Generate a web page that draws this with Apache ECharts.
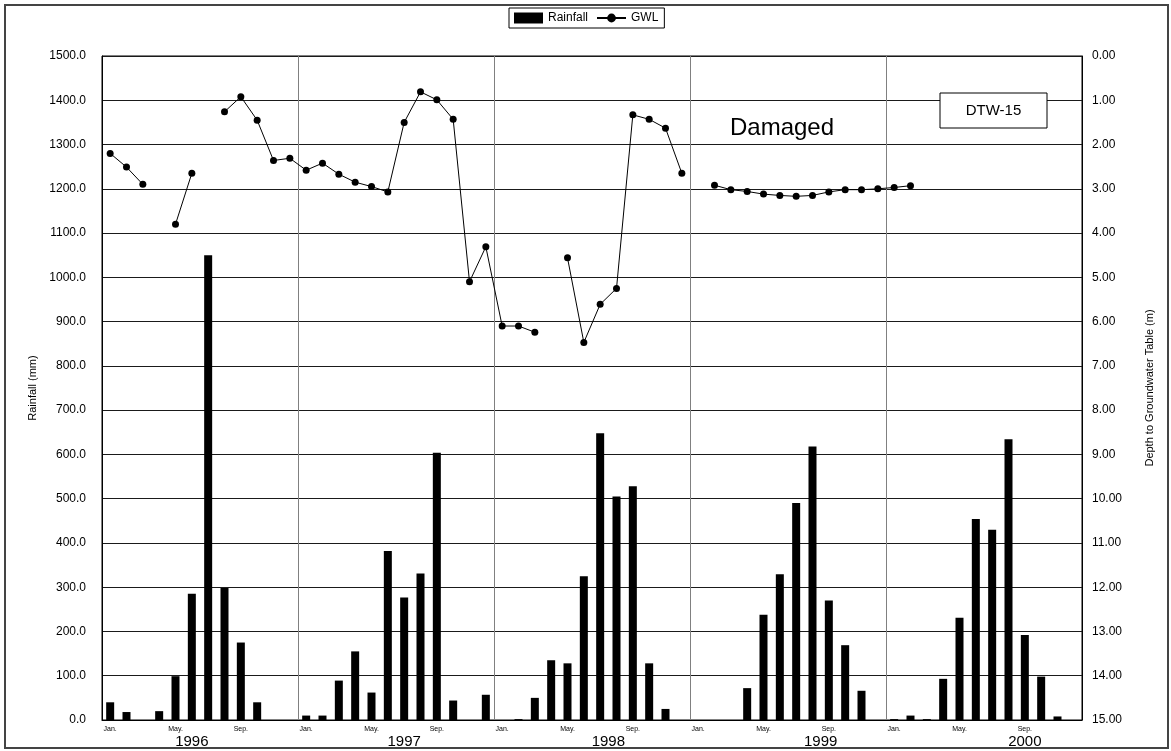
<!DOCTYPE html>
<html>
<head>
<meta charset="utf-8">
<script src="https://cdn.jsdelivr.net/npm/echarts@6/dist/echarts.min.js"></script>
<style>html,body{margin:0;padding:0;background:#fff;}#c{width:1171px;height:751px;}</style>
</head>
<body>
<div id="c"></div>
<script>
// ---- Data ----
const years = ['1996', '1997', '1998', '1999', '2000'];
const monthNames = ['Jan.', 'Feb.', 'Mar.', 'Apr.', 'May.', 'Jun.', 'Jul.', 'Aug.', 'Sep.', 'Oct.', 'Nov.', 'Dec.'];
const rain1996 = [40, 18, 0, 20, 99, 285, 1050, 298, 175, 40, 0, 0];
const rain1997 = [10, 10, 89, 155, 62, 382, 277, 331, 604, 44, 0, 57];
const rain1998 = [0, 2, 50, 135, 128, 325, 648, 505, 528, 128, 25, 0];
const rain1999 = [0, 0, 0, 72, 238, 329, 490, 618, 270, 169, 66, 0];
const rain2000 = [2, 10, 2, 93, 231, 454, 430, 634, 192, 98, 8, 0];
const gwl1996 = [2.20, 2.51, 2.90, null, 3.80, 2.65, null, 1.26, 0.92, 1.45, 2.36, 2.31];
const gwl1997 = [2.58, 2.42, 2.67, 2.85, 2.95, 3.07, 1.50, 0.81, 0.99, 1.43, 5.10, 4.31];
const gwl1998 = [6.10, 6.10, 6.24, null, 4.56, 6.47, 5.61, 5.25, 1.33, 1.43, 1.63, 2.65];
const gwl1999 = [null, 2.92, 3.02, 3.06, 3.12, 3.15, 3.17, 3.15, 3.07, 3.02, 3.02, 3.00];
const gwl2000 = [2.97, 2.93, null, null, null, null, null, null, null, null, null, null];
// year label positions (in months from Jan 1996)
const yearLabelPos = [5.5, 18.5, 31, 44, 56.5];
const leftTicks = [0, 1500, 100];
const rightTicks = [0, 15, 1];

// ---- Build ----
const categories = [];
years.forEach(y => monthNames.forEach((m, i) => categories.push(y + '-' + (i + 1))));
const rainfall = [].concat(rain1996, rain1997, rain1998, rain1999, rain2000);
const gwl = [].concat(gwl1996, gwl1997, gwl1998, gwl1999, gwl2000);

const FONT = '"Liberation Sans", Arial, sans-serif';
const chart = echarts.init(document.getElementById('c'), null, {renderer: 'canvas'});
chart.setOption({
  animation: false,
  backgroundColor: '#fff',
  textStyle: {fontFamily: FONT, color: '#000'},
  grid: {left: 102, right: 89, top: 56, bottom: 31, show: true, borderColor: '#000', borderWidth: 1, containLabel: false},
  legend: {
    top: 8, left: 509,
    data: [{name: 'Rainfall', icon: 'rect'}, {name: 'GWL'}],
    borderColor: '#000', borderWidth: 1, padding: [4, 6, 4, 5],
    itemGap: 8, itemWidth: 29, itemHeight: 11,
    textStyle: {fontSize: 12, color: '#000', fontFamily: FONT}
  },
  xAxis: [{
    type: 'category', data: categories, gridIndex: 0,
    axisLine: {show: true, lineStyle: {color: '#000', width: 1}},
    axisTick: {show: false},
    axisLabel: {
      interval: (idx) => idx % 4 === 0,
      formatter: (v) => monthNames[parseInt(v.split('-')[1], 10) - 1],
      fontSize: 7, color: '#000', margin: 6
    },
    splitLine: {show: true, interval: (idx) => idx % 12 === 0 && idx > 0, lineStyle: {color: '#808080', width: 1}}
  }, {
    type: 'value', gridIndex: 0, position: 'bottom', min: 0, max: 60, interval: 0.5,
    axisLine: {show: false}, axisTick: {show: false}, splitLine: {show: false},
    axisLabel: {
      fontSize: 15, color: '#000', margin: 14, showMinLabel: true, showMaxLabel: true,
      formatter: (v) => { const k = yearLabelPos.indexOf(v); return k >= 0 ? years[k] : ''; }
    }
  }],
  yAxis: [{
    type: 'value', min: leftTicks[0], max: leftTicks[1], interval: leftTicks[2],
    name: 'Rainfall (mm)', nameLocation: 'middle', nameRotate: 90, nameGap: 64,
    nameTextStyle: {fontSize: 11, color: '#000'},
    axisLine: {show: true, lineStyle: {color: '#000'}},
    axisTick: {show: false},
    axisLabel: {formatter: (v) => v.toFixed(1), fontSize: 12, color: '#000', margin: 16},
    splitLine: {show: true, lineStyle: {color: '#1a1a1a', width: 1}}
  }, {
    type: 'value', min: rightTicks[0], max: rightTicks[1], interval: rightTicks[2], inverse: true,
    position: 'right',
    name: 'Depth to Groundwater Table (m)', nameLocation: 'middle', nameRotate: 90, nameGap: 62,
    nameTextStyle: {fontSize: 11, color: '#000'},
    axisLine: {show: true, lineStyle: {color: '#000'}},
    axisTick: {show: false},
    axisLabel: {formatter: (v) => v.toFixed(2), fontSize: 12, color: '#000', margin: 10},
    splitLine: {show: false}
  }],
  series: [{
    name: 'Rainfall', type: 'bar', xAxisIndex: 0, yAxisIndex: 0,
    data: rainfall, barWidth: 8,
    itemStyle: {color: '#000'}
  }, {
    name: 'GWL', type: 'line', xAxisIndex: 0, yAxisIndex: 1,
    data: gwl, connectNulls: false,
    symbol: 'circle', symbolSize: 7,
    lineStyle: {color: '#000', width: 1},
    itemStyle: {color: '#000'}
  }],
  graphic: [
    {type: 'rect', shape: {x: 5, y: 5, width: 1163, height: 743}, style: {fill: 'none', stroke: '#444', lineWidth: 2}, z: 100},
    {type: 'rect', shape: {x: 940, y: 93, width: 107, height: 35}, style: {fill: '#fff', stroke: '#000', lineWidth: 1}, z: 100},
    {type: 'text', x: 993.5, y: 110.5, style: {text: 'DTW-15', font: '15px ' + FONT, fill: '#000', align: 'center', verticalAlign: 'middle'}, z: 101},
    {type: 'text', x: 782, y: 128, style: {text: 'Damaged', font: '24px ' + FONT, fill: '#000', align: 'center', verticalAlign: 'middle'}, z: 101}
  ]
});
</script>
</body>
</html>
